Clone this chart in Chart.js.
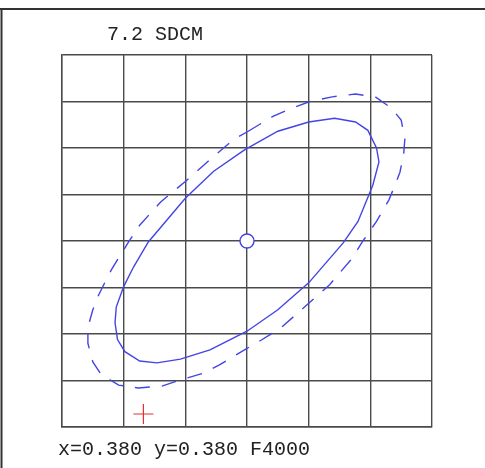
<!DOCTYPE html>
<html>
<head>
<meta charset="utf-8">
<script src="https://cdn.jsdelivr.net/npm/chart.js@4"></script>
<style>
  html, body { margin: 0; padding: 0; background: #fff; }
  #wrap { width: 485px; height: 468px; }
</style>
</head>
<body>
<div id="wrap"><canvas id="sdcm"></canvas></div>
<script>
// chromaticity window (grid every 0.005)
const xRange = [0.365, 0.395];
const yRange = [0.360, 0.400];
const gridStep = 0.005;

const titleText = '7.2 SDCM';
const footText = 'x=0.380 y=0.380 F4000';

// target point
const centerX = [0.380];
const centerY = [0.380];

// measured point (red cross)
const markX = [0.3716];
const markY = [0.3614];

// inner ellipse (solid)
const solidX = [0.3798, 0.3825, 0.3850, 0.3871, 0.3888, 0.3898, 0.3905, 0.3907, 0.3902, 0.3890,
                0.3878, 0.3850, 0.3825, 0.3800, 0.3770, 0.3746, 0.3727, 0.3713, 0.3701, 0.3695,
                0.3693, 0.3694, 0.3700, 0.3708, 0.3720, 0.3750, 0.3773, 0.3798];
const solidY = [0.3898, 0.3918, 0.3928, 0.3932, 0.3928, 0.3919, 0.3900, 0.3885, 0.3860, 0.3821,
                0.3798, 0.3755, 0.3726, 0.3703, 0.3683, 0.3673, 0.3669, 0.3671, 0.3681, 0.3694,
                0.3712, 0.3729, 0.3751, 0.3772, 0.3799, 0.3846, 0.3875, 0.3898];

// outer ellipse (dashed)
const dashX = [0.3801, 0.3821, 0.3835, 0.3851, 0.3869, 0.3888, 0.3904, 0.3917, 0.3925, 0.3928,
               0.3927, 0.3924, 0.3920, 0.3915, 0.3905, 0.3894, 0.3885, 0.3867, 0.3850, 0.3827,
               0.3811, 0.3798, 0.3778, 0.3765, 0.3747, 0.3731, 0.3712, 0.3696, 0.3682, 0.3675,
               0.3671, 0.3671, 0.3675, 0.3679, 0.3685, 0.3690, 0.3704, 0.3713, 0.3730, 0.3750,
               0.3773, 0.3789, 0.3801];
const dashY = [0.3918, 0.3934, 0.3942, 0.3950, 0.3955, 0.3958, 0.3955, 0.3943, 0.3930, 0.3910,
               0.3893, 0.3874, 0.3860, 0.3844, 0.3821, 0.3800, 0.3781, 0.3753, 0.3733, 0.3706,
               0.3693, 0.3683, 0.3667, 0.3658, 0.3651, 0.3644, 0.3642, 0.3645, 0.3656, 0.3670,
               0.3690, 0.3707, 0.3726, 0.3740, 0.3756, 0.3769, 0.3799, 0.3817, 0.3842, 0.3864,
               0.3891, 0.3909, 0.3918];

function pts(xs, ys) {
  return xs.map((x, i) => ({ x: x, y: ys[i] }));
}

const blue = '#4444e6';

// frame lines and the two text lines
const decor = {
  id: 'decor',
  beforeDraw(chart) {
    const c = chart.ctx;
    c.save();
    c.fillStyle = '#fff';
    c.fillRect(0, 0, chart.width, chart.height);
    c.strokeStyle = '#333';
    c.lineWidth = 2;
    c.beginPath();
    c.moveTo(0, 9); c.lineTo(chart.width, 9);
    c.moveTo(1.5, 9); c.lineTo(1.5, chart.height);
    c.stroke();
    c.restore();
  },
  afterDraw(chart) {
    const c = chart.ctx;
    const a = chart.chartArea;
    c.save();
    c.fillStyle = '#222';
    c.font = '20px "Liberation Mono", "DejaVu Sans Mono", monospace';
    c.textBaseline = 'alphabetic';
    c.fillText(titleText, a.left + 45, a.top - 15);
    c.fillText(footText, a.left - 4, a.bottom + 28);
    c.restore();
  }
};

new Chart(document.getElementById('sdcm'), {
  type: 'scatter',
  data: {
    datasets: [
      {
        label: 'outer',
        data: pts(dashX, dashY),
        showLine: true,
        borderColor: blue,
        borderWidth: 1.4,
        borderDash: [15, 12],
        pointRadius: 0,
        tension: 0
      },
      {
        label: 'inner',
        data: pts(solidX, solidY),
        showLine: true,
        borderColor: blue,
        borderWidth: 1.4,
        pointRadius: 0,
        tension: 0
      },
      {
        label: 'target',
        data: pts(centerX, centerY),
        pointStyle: 'circle',
        pointRadius: 7,
        borderColor: blue,
        borderWidth: 1.4,
        backgroundColor: '#fff'
      },
      {
        label: 'measured',
        data: pts(markX, markY),
        pointStyle: 'cross',
        pointRadius: 10,
        borderColor: '#e53030',
        borderWidth: 1.2
      }
    ]
  },
  options: {
    responsive: true,
    maintainAspectRatio: false,
    animation: false,
    layout: { padding: { left: 62, right: 53, top: 55, bottom: 41 } },
    plugins: {
      legend: { display: false },
      tooltip: { enabled: false }
    },
    scales: {
      x: {
        min: xRange[0], max: xRange[1],
        ticks: { display: false, stepSize: gridStep },
        grid: { color: '#4a4a4a', lineWidth: 1.4, drawTicks: false },
        border: { color: '#4a4a4a', width: 1.4 }
      },
      y: {
        min: yRange[0], max: yRange[1],
        ticks: { display: false, stepSize: gridStep },
        grid: { color: '#4a4a4a', lineWidth: 1.4, drawTicks: false },
        border: { color: '#4a4a4a', width: 1.4 }
      }
    }
  },
  plugins: [decor]
});
</script>
</body>
</html>
